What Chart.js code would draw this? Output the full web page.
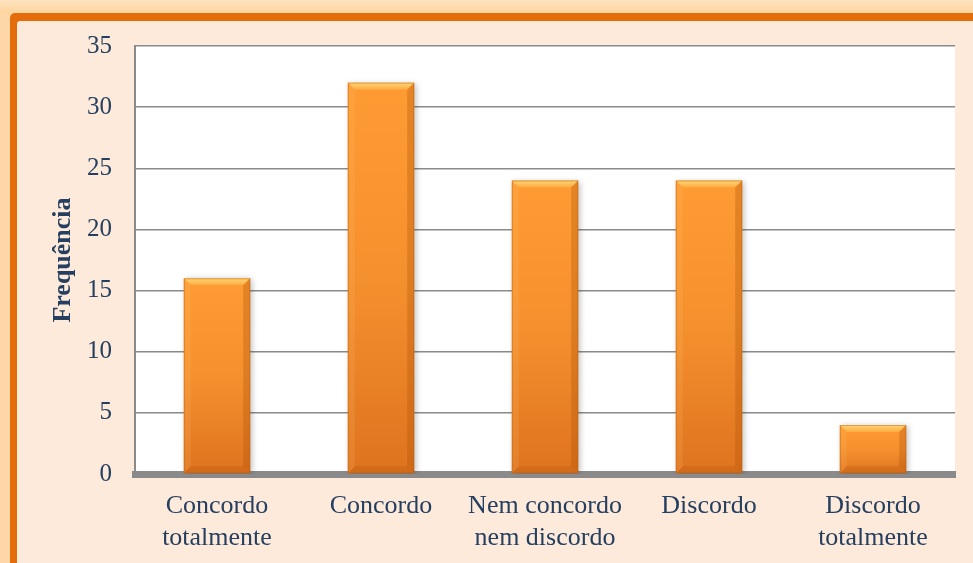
<!DOCTYPE html>
<html>
<head>
<meta charset="utf-8">
<script src="https://cdn.jsdelivr.net/npm/chart.js@4.4.1/dist/chart.umd.min.js"></script>
<style>
html,body{margin:0;padding:0;background:#FDEADA;}
#wrap{position:relative;width:973px;height:563px;}
canvas{display:block;}
</style>
</head>
<body>
<div id="wrap"><canvas id="c" width="973" height="563"></canvas></div>
<script>
const categories = [["Concordo","totalmente"],["Concordo"],["Nem concordo","nem discordo"],["Discordo"],["Discordo","totalmente"]];
const frequencies = [16, 32, 24, 24, 4];
const yTicks = [0, 5, 10, 15, 20, 25, 30, 35];
const yTitle = "Frequência";

const TEXT = "#243F60";
const FONT = "'Liberation Serif','Times New Roman',serif";

const framePlugin = {
  id: 'frame',
  beforeDraw(chart) {
    const ctx = chart.ctx, W = chart.width, H = chart.height;
    ctx.save();
    const og = ctx.createLinearGradient(0, 0, 0, 13);
    og.addColorStop(0, '#FDE3C0');
    og.addColorStop(1, '#FDD49C');
    ctx.fillStyle = og;
    ctx.fillRect(0, 0, W, H);
    ctx.fillStyle = '#FDD8A6';
    ctx.fillRect(0, 13, 10, H);
    ctx.fillStyle = '#E46C0A';
    ctx.beginPath();
    ctx.roundRect(10, 13, W + 20, H + 20, 5);
    ctx.fill();
    ctx.fillStyle = '#FDEADA';
    ctx.beginPath();
    ctx.roundRect(17, 21, W + 20, H + 20, 3);
    ctx.fill();
    const a = chart.chartArea;
    ctx.fillStyle = '#FFFFFF';
    ctx.fillRect(a.left, a.top, a.right - a.left, a.bottom - a.top);
    ctx.restore();
  }
};

const bevelPlugin = {
  id: 'bevel',
  beforeDatasetsDraw(chart) {
    const ctx = chart.ctx;
    ctx.save();
    ctx.shadowColor = 'rgba(0,0,0,0.25)';
    ctx.shadowBlur = 6;
    ctx.shadowOffsetX = 2;
    ctx.shadowOffsetY = 1;
  },
  afterDatasetsDraw(chart) {
    const ctx = chart.ctx;
    ctx.restore();
    ctx.save();
    const meta = chart.getDatasetMeta(0);
    meta.data.forEach(el => {
      const p = el.getProps(['x','y','base','width'], true);
      const l = p.x - p.width/2, r = p.x + p.width/2, t = p.y, b = p.base;
      const bv = Math.min(7, (b - t) / 3);
      let g = ctx.createLinearGradient(0, t, 0, t + bv);
      g.addColorStop(0, '#FFD877');
      g.addColorStop(1, '#FFA940');
      ctx.fillStyle = g;
      ctx.beginPath();
      ctx.moveTo(l, t); ctx.lineTo(r, t); ctx.lineTo(r - bv, t + bv); ctx.lineTo(l + bv, t + bv); ctx.closePath();
      ctx.fill();
      ctx.fillStyle = 'rgba(255,200,120,0.15)';
      ctx.beginPath();
      ctx.moveTo(l, t); ctx.lineTo(l + bv, t + bv); ctx.lineTo(l + bv, b - bv); ctx.lineTo(l, b); ctx.closePath();
      ctx.fill();
      ctx.fillStyle = 'rgba(170,80,5,0.3)';
      ctx.beginPath();
      ctx.moveTo(r, t); ctx.lineTo(r - bv, t + bv); ctx.lineTo(r - bv, b - bv); ctx.lineTo(r, b); ctx.closePath();
      ctx.fill();
      ctx.fillStyle = 'rgba(160,75,5,0.2)';
      ctx.beginPath();
      ctx.moveTo(l, b); ctx.lineTo(l + bv, b - bv); ctx.lineTo(r - bv, b - bv); ctx.lineTo(r, b); ctx.closePath();
      ctx.fill();
      ctx.strokeStyle = 'rgba(190,95,15,0.5)';
      ctx.lineWidth = 1;
      ctx.strokeRect(l + 0.5, t + 0.5, r - l - 1, b - t - 1);
    });
    ctx.restore();
  }
};

function barGradient(context) {
  const chart = context.chart;
  const ys = chart.scales.y;
  if (!ys || !chart.chartArea) return '#F7922F';
  const v = context.parsed ? context.parsed.y : frequencies[context.dataIndex];
  const top = ys.getPixelForValue(v), base = ys.getPixelForValue(0);
  if (!isFinite(top) || !isFinite(base) || top === base) return '#F7922F';
  const g = chart.ctx.createLinearGradient(0, top, 0, base);
  g.addColorStop(0, '#FF9B33');
  g.addColorStop(0.5, '#F5902E');
  g.addColorStop(1, '#DE731F');
  return g;
}

new Chart(document.getElementById('c'), {
  type: 'bar',
  data: {
    labels: categories,
    datasets: [{
      data: frequencies,
      backgroundColor: barGradient,
      borderWidth: 0,
      categoryPercentage: 1.0,
      barPercentage: 0.405
    }]
  },
  options: {
    responsive: false,
    animation: false,
    devicePixelRatio: 1,
    layout: { padding: { left: 20, right: 18, top: 46, bottom: 0 } },
    plugins: { legend: { display: false }, tooltip: { enabled: false } },
    scales: {
      x: {
        z: 1,
        offset: true,
        grid: { display: false, drawTicks: false },
        border: { display: true, color: '#8A8A8A', width: 7 },
        ticks: {
          color: TEXT, padding: 17, maxRotation: 0, autoSkip: false,
          font: { family: FONT, size: 26, lineHeight: 1.2 }
        },
        afterFit(s) { s.height = 89; }
      },
      y: {
        min: 0, max: 35,
        afterBuildTicks(s) { s.ticks = yTicks.map(v => ({ value: v })); },
        grid: { color: '#8A8A8A', lineWidth: 1.5, drawTicks: false },
        border: { display: true, color: '#8A8A8A', width: 2 },
        ticks: {
          color: TEXT, padding: 23,
          font: { family: FONT, size: 25 }
        },
        title: {
          display: true, text: yTitle, color: TEXT,
          font: { family: FONT, size: 26, weight: 'bold', lineHeight: 1.2 },
          padding: { top: 28, bottom: 0 }
        },
        afterFit(s) { s.width = 115; }
      }
    }
  },
  plugins: [framePlugin, bevelPlugin]
});
</script>
</body>
</html>
